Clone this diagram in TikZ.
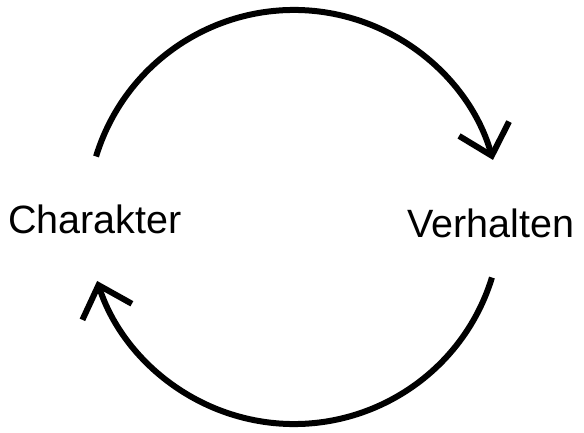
\documentclass[tikz,border=0pt]{standalone}
\usepackage{fontspec}
\setmainfont{Liberation Sans}
\usetikzlibrary{arrows.meta,calc}
\begin{document}
\begin{tikzpicture}[x=1pt,y=1pt,
  label text/.style={font=\fontsize{39.5}{46}\selectfont, inner sep=0pt, anchor=base west},
  cyclearc/.style={line width=6pt, -{Straight Barb[length=28pt,width=52pt,line width=6pt]}}]
\useasboundingbox (0,0) rectangle (584,432);
\coordinate (c) at (294,215);
\node[label text] (ch) at (8,199) {Charakter};
\node[label text] (vh) at (407,195) {Verhalten};
\coordinate (s1) at ($(c)+(163:207)$);
\coordinate (s2) at ($(c)+(-17:207)$);
\draw[cyclearc] (s1) arc[start angle=163, end angle=16, radius=207];
\draw[cyclearc] (s2) arc[start angle=-17, end angle=-162, radius=207];
\end{tikzpicture}
\end{document}
